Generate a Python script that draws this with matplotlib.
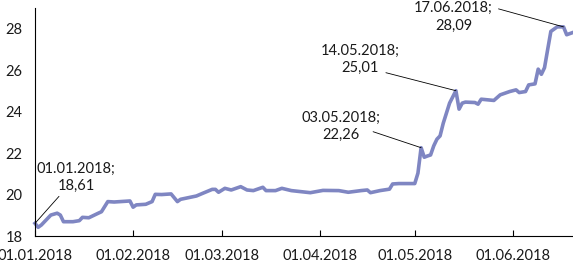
import matplotlib

matplotlib.use("Agg")
import matplotlib.dates as mdates
import matplotlib.pyplot as plt
import pandas as pd

plt.rcParams["font.family"] = ["Lato", "DejaVu Sans"]

# valores (precio diario, ene-jun 2018)
dates = [
    "2018-01-01", "2018-01-02", "2018-01-03", "2018-01-05", "2018-01-06",
    "2018-01-08", "2018-01-09", "2018-01-10", "2018-01-13", "2018-01-15",
    "2018-01-16", "2018-01-18", "2018-01-21", "2018-01-22", "2018-01-24",
    "2018-01-26", "2018-01-31", "2018-02-01", "2018-02-02", "2018-02-05",
    "2018-02-07", "2018-02-08", "2018-02-10", "2018-02-13", "2018-02-15",
    "2018-02-16", "2018-02-21", "2018-02-23", "2018-02-26", "2018-02-27",
    "2018-02-28", "2018-03-02", "2018-03-04", "2018-03-07", "2018-03-09",
    "2018-03-11", "2018-03-14", "2018-03-15", "2018-03-18", "2018-03-20",
    "2018-03-23", "2018-03-26", "2018-03-29", "2018-04-02", "2018-04-07",
    "2018-04-10", "2018-04-14", "2018-04-16", "2018-04-17", "2018-04-20",
    "2018-04-23", "2018-04-24", "2018-04-26", "2018-05-01", "2018-05-02",
    "2018-05-03", "2018-05-04", "2018-05-05", "2018-05-06", "2018-05-07",
    "2018-05-08", "2018-05-09", "2018-05-10", "2018-05-12", "2018-05-14",
    "2018-05-15", "2018-05-16", "2018-05-17", "2018-05-20", "2018-05-21",
    "2018-05-22", "2018-05-24", "2018-05-26", "2018-05-28", "2018-05-31",
    "2018-06-02", "2018-06-03", "2018-06-05", "2018-06-06", "2018-06-08",
    "2018-06-09", "2018-06-10", "2018-06-11", "2018-06-12", "2018-06-13",
    "2018-06-15", "2018-06-17", "2018-06-18", "2018-06-20",
]
values = [
    18.61, 18.42, 18.53, 18.85, 19.01,
    19.10, 19.01, 18.69, 18.69, 18.74,
    18.90, 18.88, 19.10, 19.17, 19.66,
    19.64, 19.69, 19.39, 19.50, 19.53,
    19.66, 20.01, 20.00, 20.03, 19.66,
    19.77, 19.93, 20.06, 20.25, 20.25,
    20.11, 20.30, 20.22, 20.38, 20.22,
    20.19, 20.35, 20.19, 20.19, 20.30,
    20.19, 20.14, 20.09, 20.20, 20.19,
    20.11, 20.19, 20.22, 20.09, 20.19,
    20.26, 20.51, 20.53, 20.53, 21.03,
    22.26, 21.80, 21.86, 21.91, 22.35,
    22.67, 22.83, 23.44, 24.41, 25.01,
    24.12, 24.41, 24.46, 24.44, 24.36,
    24.60, 24.57, 24.54, 24.81, 24.97,
    25.05, 24.92, 24.97, 25.29, 25.34,
    26.05, 25.80, 26.12, 27.00, 27.87,
    28.09, 28.09, 27.71, 27.82,
]
assert len(dates) == len(values)

tick_dates = ["2018-01-01", "2018-02-01", "2018-03-01", "2018-04-01", "2018-05-01", "2018-06-01"]
y_ticks = [18, 20, 22, 24, 26, 28]

# etiquetas: fecha del punto, desplazamiento del texto y del extremo de la guia (px)
ann_dates = ["2018-01-01", "2018-05-03", "2018-05-14", "2018-06-17"]
ann_text_off = [(41, 46), (-80, 21), (-96, 31), (-110, 10)]
ann_line_off = [(24, 27), (-48, 16), (-70, 18), (-65, 18)]

x = pd.to_datetime(dates)
s = pd.Series(values, index=x)

fig = plt.figure(figsize=(5.73, 2.62), dpi=100)
ax = fig.add_axes([35 / 573, 26 / 262, 538 / 573, 228 / 262])

ax.plot(x, values, color="#7F86C2", lw=2.6, solid_joinstyle="round", clip_on=False)

for d, toff, loff in zip(ann_dates, ann_text_off, ann_line_off):
    dt = pd.Timestamp(d)
    v = s[dt]
    label = f"{dt:%d.%m.%Y};\n" + f"{v:.2f}".replace(".", ",")
    ax.annotate("", xy=(dt, v), xytext=loff, textcoords="offset pixels",
                arrowprops=dict(arrowstyle="-", color="black", lw=0.6,
                                shrinkA=0, shrinkB=0))
    ax.annotate(label, xy=(dt, v), xytext=toff, textcoords="offset pixels",
                ha="center", va="center", multialignment="center",
                fontsize=10.5, color="#1a1a1a", linespacing=1.3)

ax.set_xlim(pd.Timestamp("2018-01-01"), pd.Timestamp("2018-06-20"))
ax.set_ylim(18, 29)
ax.set_xticks(pd.to_datetime(tick_dates))
ax.xaxis.set_major_formatter(mdates.DateFormatter("%d.%m.%Y"))
ax.set_yticks(y_ticks)

ax.spines["top"].set_visible(False)
ax.spines["right"].set_visible(False)
for sp in ("left", "bottom"):
    ax.spines[sp].set_linewidth(0.8)
    ax.spines[sp].set_color("black")
ax.tick_params(axis="x", direction="in", length=4, width=0.8, pad=9,
               labelsize=10.5, labelcolor="#1a1a1a")
ax.tick_params(axis="y", length=0, pad=9, labelsize=10.5, labelcolor="#1a1a1a")

fig.savefig("out.png", dpi=100)
